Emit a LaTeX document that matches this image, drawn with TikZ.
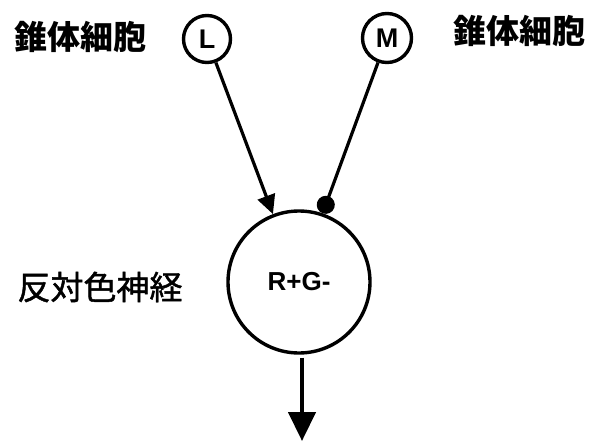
\documentclass[tikz,border=0pt]{standalone}
\usepackage{fontspec}
\setmainfont{Liberation Sans}
\newfontfamily\cjk{Noto Sans CJK JP}
\newfontfamily\cjkm{Noto Sans CJK JP}[FakeBold=1.4]
\usetikzlibrary{arrows.meta}
\begin{document}
\begin{tikzpicture}[x=1pt,y=-1pt,
  cell/.style={circle,draw,line width=3.4pt,inner sep=0pt},
  lab/.style={inner sep=0pt},
  conn/.style={line width=3.2pt}]
\useasboundingbox (0,0) rectangle (591,442);
\node[cell,minimum size=47pt,font=\bfseries\fontsize{27}{28}\selectfont] (L) at (207,39) {L};
\node[cell,minimum size=49pt,font=\bfseries\fontsize{27}{28}\selectfont] (M) at (387,38) {M};
\node[cell,minimum size=142pt,font=\bfseries\fontsize{26}{28}\selectfont] (RG) at (299,282) {R+G-};
\node[lab,font=\cjk\bfseries\fontsize{33}{36}\selectfont] (t1) at (80,37) {錐体細胞};
\node[lab,font=\cjk\bfseries\fontsize{33}{36}\selectfont] (t2) at (519,31) {錐体細胞};
\node[lab,font=\cjkm\fontsize{33}{36}\selectfont] (t3) at (100,287) {反対色神経};
\coordinate (out) at (302,441);
\draw[conn,-{Triangle[length=19pt,width=18pt]}] (L) -- (RG.111);
\draw[conn,-{Circle[length=18pt,width=18pt]}] (M) -- (RG.71);
\draw[line width=4.4pt,-{Triangle[length=29pt,width=27pt]}] (RG.south) ++(3,3) -- (out);
\end{tikzpicture}
\end{document}
